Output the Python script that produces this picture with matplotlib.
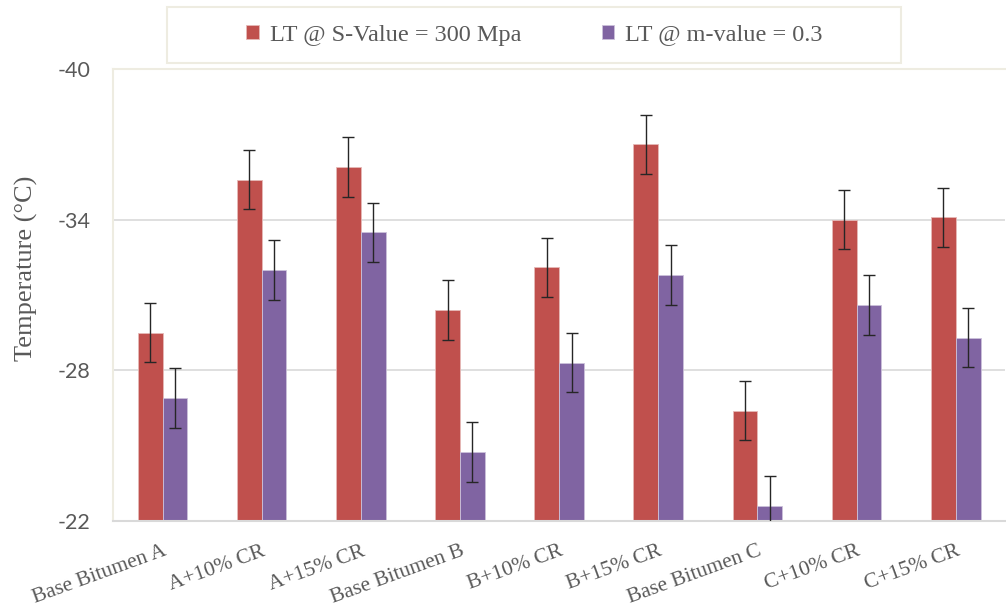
import matplotlib.pyplot as plt
from matplotlib.patches import Rectangle
import numpy as np

categories = ['Base Bitumen A', 'A+10% CR', 'A+15% CR', 'Base Bitumen B', 'B+10% CR',
              'B+15% CR', 'Base Bitumen C', 'C+10% CR', 'C+15% CR']
s_value = [-29.5, -35.6, -36.1, -30.4, -32.1, -37.0, -26.4, -34.0, -34.1]
m_value = [-26.9, -32.0, -33.5, -24.75, -28.3, -31.8, -22.6, -30.6, -29.3]
s_err = [1.18] * 9
m_err = [1.18] * 9
yticks = [-40, -34, -28, -22]

red = '#C0504D'
purple = '#8064A2'
gray = '#595959'

fig = plt.figure(figsize=(10.06, 6.09), dpi=100)
ax = fig.add_axes([0.1123, 0.1445, 0.887, 0.742])

x = np.arange(len(categories))
w = 0.25
base = -22
ax.bar(x - w / 2, np.array(s_value) - base, w, bottom=base, color=red,
       edgecolor='#E6B9B8', linewidth=0.6, label='LT @ S-Value = 300 Mpa', zorder=2)
ax.bar(x + w / 2, np.array(m_value) - base, w, bottom=base, color=purple,
       edgecolor='#CCC1DA', linewidth=0.6, label='LT @ m-value = 0.3', zorder=2)
ax.errorbar(x - w / 2, s_value, yerr=s_err, fmt='none', ecolor='#262626',
            elinewidth=1, capsize=4.5, capthick=1, zorder=3)
ax.errorbar(x + w / 2, m_value, yerr=m_err, fmt='none', ecolor='#262626',
            elinewidth=1, capsize=4.5, capthick=1, zorder=3)

ax.set_xlim(-0.5, len(categories) - 0.5)
ax.set_ylim(-22, -40)
ax.set_yticks(yticks)
ax.set_yticklabels([str(t) for t in yticks], fontfamily='Lato', fontsize=15.5, color=gray)
ax.yaxis.grid(True, color='#D9D9D9', linewidth=1.2, zorder=0)
ax.set_axisbelow(True)
ax.tick_params(axis='y', length=0, pad=16)
ax.tick_params(axis='x', length=0, pad=15)
ax.set_xticks(x)
ax.set_xticklabels(categories, rotation=20, ha='right', rotation_mode='anchor',
                   fontfamily='Liberation Serif', fontsize=15.5, color=gray)
ax.set_ylabel('Temperature (°C)', fontfamily='Liberation Serif', fontsize=19, color=gray)
ax.yaxis.set_label_coords(-0.084, 0.56)

for side in ['left', 'top']:
    ax.spines[side].set_color('#EEECE1')
    ax.spines[side].set_linewidth(1.5)
ax.spines['right'].set_visible(False)
ax.spines['bottom'].set_color('#D9D9D9')
ax.spines['bottom'].set_linewidth(1.5)

# legend box
fig.patches.append(Rectangle((0.166, 0.8966), 0.7296, 0.0919, transform=fig.transFigure,
                             fill=False, edgecolor='#EEECE1', linewidth=1.5))
leg = fig.legend(loc='center', bbox_to_anchor=(0.5313, 0.9425), ncol=2,
                 prop={'family': 'Liberation Serif', 'size': 17.5}, frameon=False,
                 handlelength=0.53, handleheight=0.53, handletextpad=0.45,
                 columnspacing=3.3, borderpad=0, borderaxespad=0)
for t in leg.get_texts():
    t.set_color(gray)

fig.savefig('out.png', dpi=100)
